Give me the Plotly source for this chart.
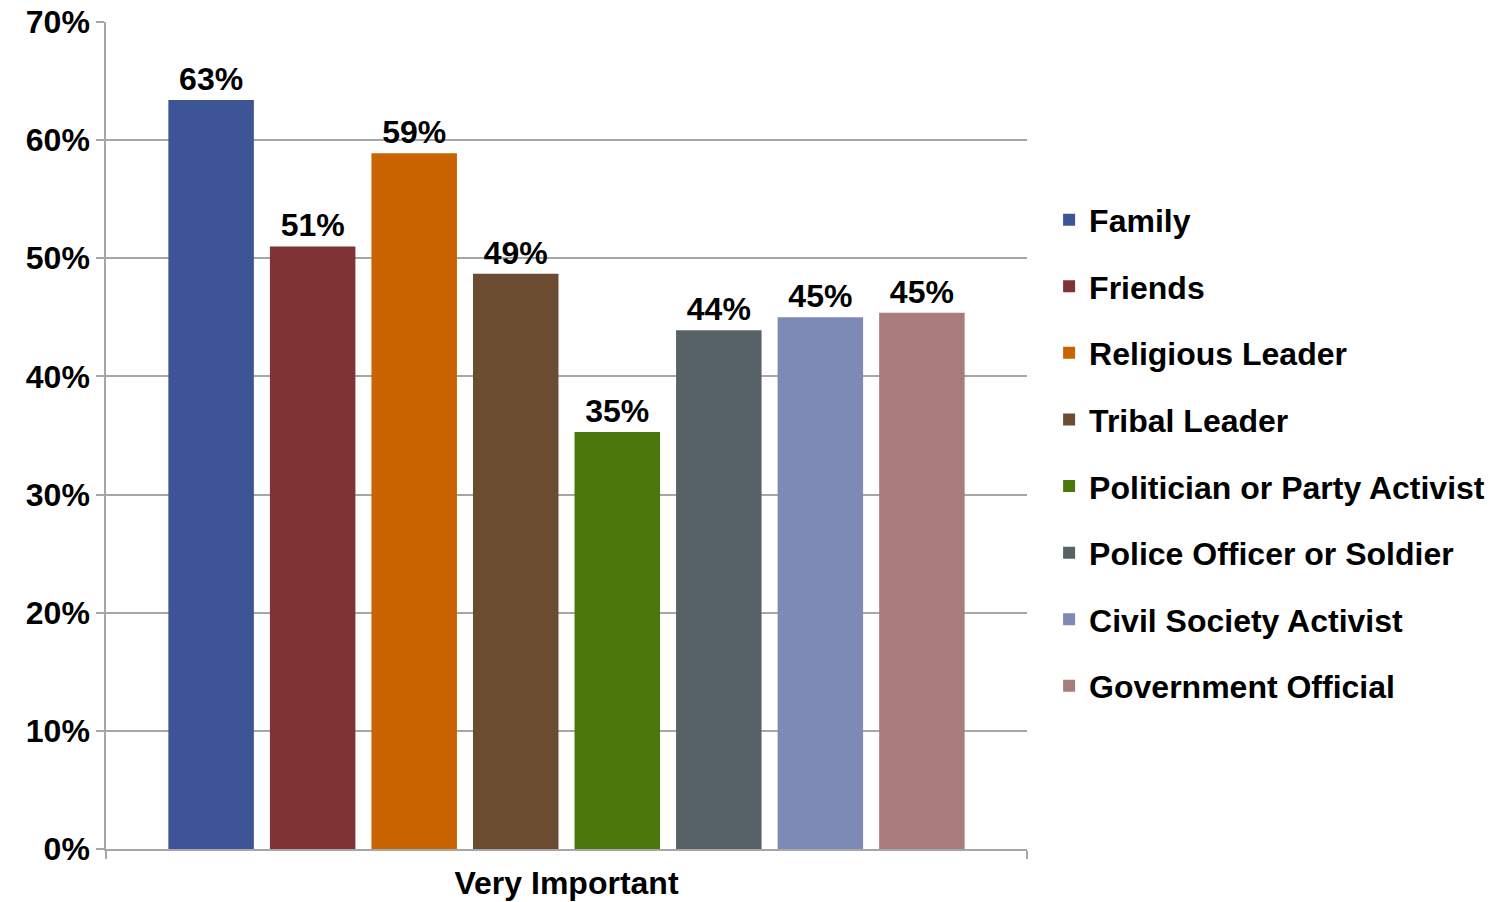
import plotly.graph_objects as go

category = ["Very Important"]
groups = ["Family", "Friends", "Religious Leader", "Tribal Leader",
          "Politician or Party Activist", "Police Officer or Soldier",
          "Civil Society Activist", "Government Official"]
values = [63.4, 51.0, 58.9, 48.7, 35.3, 43.9, 45.0, 45.4]
colors = ["#3d5496", "#7f3335", "#c96400", "#6c4c30",
          "#4b770c", "#576267", "#7d8ab5", "#a77c7b"]

FONT = "Liberation Sans, Arial, sans-serif"

fig = go.Figure()
for name, val, col in zip(groups, values, colors):
    fig.add_trace(go.Bar(
        x=category, y=[val], name=name,
        marker=dict(color=col, line=dict(width=0)),
        texttemplate="%{y:.0f}%", textposition="outside",
        textfont=dict(family=FONT, size=32, color="black", weight="bold"),
        cliponaxis=False,
        legendgroup=name,
    ))

# page body has an 8px margin, so margins are offset by it
fig.update_layout(
    width=1495, height=902,
    margin=dict(l=98, r=476, t=14, b=61),
    paper_bgcolor="white", plot_bgcolor="white",
    barmode="group", bargap=0.118, bargroupgap=0.158,
    font=dict(family=FONT, size=32, color="black", weight="bold"),
    legend=dict(
        x=1.024, xanchor="left", y=0.479, yanchor="middle",
        tracegroupgap=22, font=dict(size=32, weight="bold"),
        bgcolor="rgba(0,0,0,0)",
    ),
    showlegend=True,
)
fig.update_yaxes(
    range=[0, 70], dtick=10, ticksuffix="%",
    showgrid=True, gridcolor="#a6a6a6", gridwidth=1.5,
    showline=True, linecolor="#a6a6a6", linewidth=1.5,
    ticks="outside", ticklen=8, tickcolor="#a6a6a6", tickwidth=1.5,
    zeroline=False, ticklabeloverflow="allow", automargin=False,
    tickfont=dict(family=FONT, size=32, weight="bold"),
)
fig.update_xaxes(
    showline=True, linecolor="#a6a6a6", linewidth=1.5,
    ticks="outside", tickson="boundaries", ticklen=8,
    tickcolor="#a6a6a6", tickwidth=1.5, ticklabelstandoff=5,
    automargin=False,
    tickfont=dict(family=FONT, size=32, weight="bold"),
)

fig.write_html("out.html")
